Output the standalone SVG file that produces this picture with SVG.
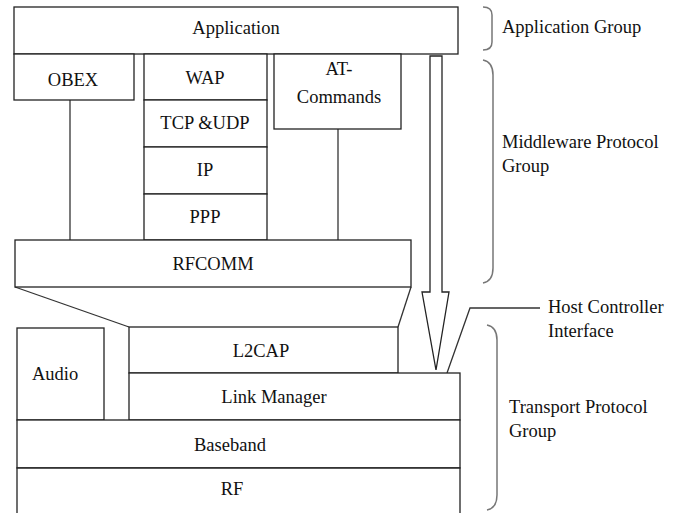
<svg xmlns="http://www.w3.org/2000/svg" width="683" height="513" viewBox="0 0 683 513">
<style>
.b{fill:#fff;stroke:#222;stroke-width:1.3}
.l{fill:none;stroke:#333;stroke-width:1.3}
.br{fill:none;stroke:#777;stroke-width:1.5}
.c{text-anchor:middle}
</style>
<rect width="683" height="513" fill="#fff"/>
<g id="connectors">
<line class="l" x1="70" y1="100" x2="70" y2="240"/>
<line class="l" x1="338" y1="129" x2="338" y2="240"/>
<line class="l" x1="15" y1="287" x2="129" y2="327"/>
<line class="l" x1="411" y1="287" x2="398" y2="327"/>
<polyline class="l" points="447,373 470,308 540,308"/>
</g>
<g font-family="'Times New Roman', Times, Tinos, 'Liberation Serif', 'Noto Serif', 'DejaVu Serif', serif" font-size="18.5" fill="#111">
<g id="application"><rect class="b" x="14" y="7" width="444" height="47"/><text class="c" x="236" y="34">Application</text></g>
<g id="obex"><rect class="b" x="14" y="54" width="120" height="46"/><text class="c" x="73" y="86">OBEX</text></g>
<g id="wap"><rect class="b" x="144" y="54" width="123" height="46"/><text class="c" x="205" y="84">WAP</text></g>
<g id="tcpudp"><rect class="b" x="144" y="100" width="123" height="47"/><text class="c" x="205" y="129">TCP &amp;UDP</text></g>
<g id="ip"><rect class="b" x="144" y="147" width="123" height="47"/><text class="c" x="205" y="176">IP</text></g>
<g id="ppp"><rect class="b" x="144" y="194" width="123" height="46"/><text class="c" x="205" y="223">PPP</text></g>
<g id="atcommands"><rect class="b" x="274" y="54" width="127" height="75"/><text class="c" x="339" y="75">AT-</text><text class="c" x="339" y="103">Commands</text></g>
<g id="rfcomm"><rect class="b" x="15" y="240" width="396" height="47"/><text class="c" x="213" y="270">RFCOMM</text></g>
<g id="l2cap"><rect class="b" x="129" y="327" width="269" height="46"/><text class="c" x="261" y="357">L2CAP</text></g>
<g id="audio"><rect class="b" x="17" y="328" width="87" height="92"/><text class="c" x="55" y="380">Audio</text></g>
<g id="linkmanager"><rect class="b" x="129" y="373" width="331" height="47"/><text class="c" x="274" y="403">Link Manager</text></g>
<g id="baseband"><rect class="b" x="17" y="420" width="443" height="48"/><text class="c" x="230" y="451">Baseband</text></g>
<g id="rf"><path class="b" d="M17,520 L17,468 L460,468 L460,520"/><text class="c" x="232" y="495">RF</text></g>
<g id="arrow"><polygon class="b" points="430,56 442,56 442,292 449,292 436,370 422,292 430,292"/></g>
<g id="appgroup"><path class="br" d="M483,7 Q492,7 492,15 L492,42 Q492,50 483,50"/><text x="502" y="33">Application Group</text></g>
<g id="midgroup"><path class="br" d="M483,60 Q493,62 493,75 L493,268 Q493,281 483,283"/><text x="502" y="148">Middleware Protocol</text><text x="502" y="172">Group</text></g>
<g id="hci"><text x="548" y="313">Host Controller</text><text x="548" y="337">Interface</text></g>
<g id="transgroup"><path class="br" d="M487,325 Q497,327 497,340 L497,495 Q497,508 487,510"/><text x="509" y="413">Transport Protocol</text><text x="509" y="437">Group</text></g>
</g>
</svg>
